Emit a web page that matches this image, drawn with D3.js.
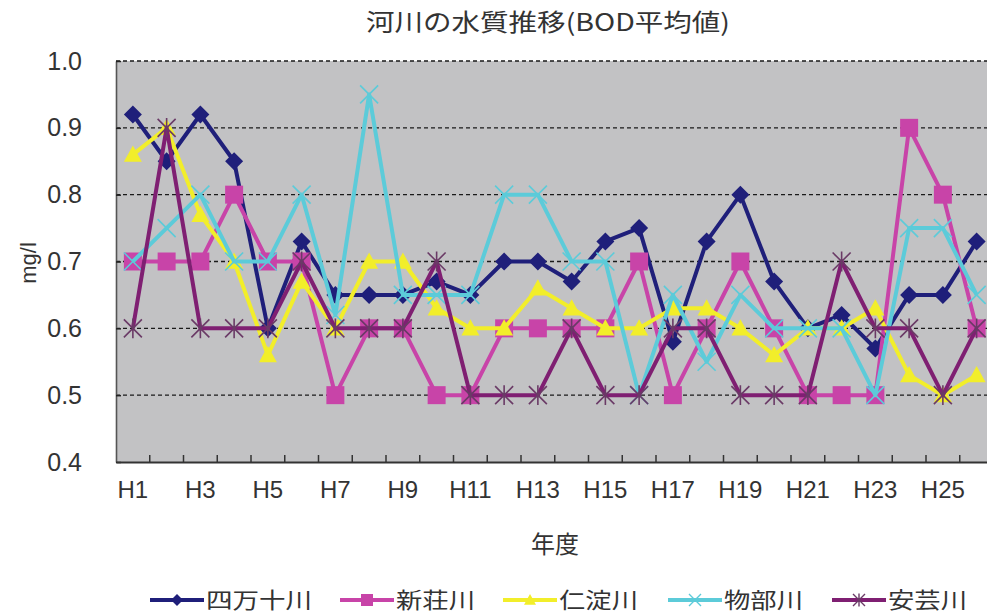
<!DOCTYPE html>
<html>
<head>
<meta charset="utf-8">
<script src="https://cdn.jsdelivr.net/npm/d3@7/dist/d3.min.js"></script>
<style>
  body { margin: 0; background: #fff; }
  svg { display: block; }
  text { fill: #333; }
</style>
</head>
<body>
<div id="chart"></div>
<script>
// categories (fiscal years)
const years = ['H1','H2','H3','H4','H5','H6','H7','H8','H9','H10','H11','H12','H13',
               'H14','H15','H16','H17','H18','H19','H20','H21','H22','H23','H24','H25','H26'];

// BOD averages per river (mg/l)
const shimanto = [0.92,0.85,0.92,0.85,0.60,0.73,0.65,0.65,0.65,0.67,0.65,0.70,0.70,
                  0.67,0.73,0.75,0.58,0.73,0.80,0.67,0.60,0.62,0.57,0.65,0.65,0.73];
const shinjo   = [0.70,0.70,0.70,0.80,0.70,0.70,0.50,0.60,0.60,0.50,0.50,0.60,0.60,
                  0.60,0.60,0.70,0.50,0.60,0.70,0.60,0.50,0.50,0.50,0.90,0.80,0.60];
const niyodo   = [0.86,0.90,0.77,0.70,0.56,0.67,0.60,0.70,0.70,0.63,0.60,0.60,0.66,
                  0.63,0.60,0.60,0.63,0.63,0.60,0.56,0.60,0.60,0.63,0.53,0.50,0.53];
const monobe   = [0.70,0.75,0.80,0.70,0.70,0.80,0.62,0.95,0.65,0.65,0.65,0.80,0.80,
                  0.70,0.70,0.50,0.65,0.55,0.65,0.60,0.60,0.60,0.50,0.75,0.75,0.65];
const aki      = [0.60,0.90,0.60,0.60,0.60,0.70,0.60,0.60,0.60,0.70,0.50,0.50,0.50,
                  0.60,0.50,0.50,0.60,0.60,0.50,0.50,0.50,0.70,0.60,0.60,0.50,0.60];

const seriesNames = ['四万十川','新荘川','仁淀川','物部川','安芸川'];
const yTicks = [0.4,0.5,0.6,0.7,0.8,0.9,1.0];

const series = [
  { name: seriesNames[0], values: shimanto, color: '#1f1f7a', shape: 'diamond' },
  { name: seriesNames[1], values: shinjo,   color: '#c844a8', shape: 'square' },
  { name: seriesNames[2], values: niyodo,   color: '#f2ee2a', shape: 'triangle' },
  { name: seriesNames[3], values: monobe,   color: '#5ccbd9', shape: 'cross' },
  { name: seriesNames[4], values: aki,      color: '#7f1f72', shape: 'star' }
];

const W = 987, H = 616;
const m = { left: 116, top: 61, bottom: 462 };
const step = 33.75;

const svg = d3.select('#chart').append('svg')
    .attr('width', W).attr('height', H);

const x = d3.scaleBand()
    .domain(years)
    .range([m.left, m.left + step * years.length])
    .padding(0);

const y = d3.scaleLinear()
    .domain([0.4, 1.0])
    .range([m.bottom, m.top]);

const cx = d => x(d) + x.bandwidth() / 2;

// plot background
svg.append('rect')
    .attr('x', m.left).attr('y', m.top)
    .attr('width', x.range()[1] - m.left)
    .attr('height', m.bottom - m.top)
    .attr('fill', '#c2c2c4');

// dashed gridlines
svg.append('g')
  .selectAll('line')
  .data(yTicks.filter(t => t > 0.4))
  .join('line')
    .attr('x1', m.left).attr('x2', x.range()[1])
    .attr('y1', d => y(d)).attr('y2', d => y(d))
    .attr('stroke', '#1a1a1a')
    .attr('stroke-width', 1.4)
    .attr('stroke-dasharray', '4,3');

// y axis
const yAxis = d3.axisLeft(y)
    .tickValues(yTicks)
    .tickFormat(d3.format('.1f'))
    .tickSizeInner(-5)
    .tickSizeOuter(0)
    .tickPadding(34);
const gy = svg.append('g')
    .attr('transform', `translate(${m.left},0)`)
    .call(yAxis);
gy.select('.domain').attr('stroke', '#555').attr('stroke-width', 1.6);
gy.selectAll('.tick line').attr('stroke', '#222').attr('stroke-width', 1.5);
gy.selectAll('.tick text')
    .attr('font-family', '"Liberation Sans", Arial, sans-serif')
    .attr('font-size', 25)
    .attr('fill', '#333');

// x axis: labels on odd years only
const xAxis = d3.axisBottom(x)
    .tickValues(years.filter((d, i) => i % 2 === 0))
    .tickSize(0)
    .tickPadding(19);
const gx = svg.append('g')
    .attr('transform', `translate(0,${m.bottom})`)
    .call(xAxis);
gx.select('.domain').attr('stroke', '#333').attr('stroke-width', 2);
gx.selectAll('.tick text')
    .attr('font-family', '"Liberation Sans", Arial, sans-serif')
    .attr('font-size', 24)
    .attr('fill', '#333');

// category boundary ticks pointing into the plot
svg.append('g')
  .selectAll('line')
  .data(years.slice(1))
  .join('line')
    .attr('x1', d => x(d)).attr('x2', d => x(d))
    .attr('y1', m.bottom).attr('y2', m.bottom - 7)
    .attr('stroke', '#333')
    .attr('stroke-width', 1.5);

// marker shapes
function markerPath(shape, s) {
  switch (shape) {
    case 'diamond':  return `M0,${-s}L${s},0L0,${s}L${-s},0Z`;
    case 'square':   return `M${-s},${-s}H${s}V${s}H${-s}Z`;
    case 'triangle': return `M0,${-s}L${s},${s * 0.8}L${-s},${s * 0.8}Z`;
    case 'cross':    return `M${-s},${-s}L${s},${s}M${s},${-s}L${-s},${s}`;
    case 'star':     return `M${-s},${-s}L${s},${s}M${s},${-s}L${-s},${s}M0,${-s * 1.1}L0,${s * 1.1}`;
  }
}
const stroked = shape => shape === 'cross' || shape === 'star';

const line = d3.line()
    .x((d, i) => cx(years[i]))
    .y(d => y(d));

series.forEach(s => {
  const g = svg.append('g');
  g.append('path')
      .datum(s.values)
      .attr('d', line)
      .attr('fill', 'none')
      .attr('stroke', s.color)
      .attr('stroke-width', 4)
      .attr('stroke-linejoin', 'round');
  g.selectAll('path.mk')
    .data(s.values)
    .join('path')
      .attr('class', 'mk')
      .attr('transform', (d, i) => `translate(${cx(years[i])},${y(d)})`)
      .attr('d', markerPath(s.shape, 9))
      .attr('fill', stroked(s.shape) ? 'none' : s.color)
      .attr('stroke', s.shape === 'star' ? '#6a3a66' : s.color)
      .attr('stroke-width', stroked(s.shape) ? 1.6 : 0);
});

// title
svg.append('text')
    .attr('x', 548).attr('y', 31)
    .attr('text-anchor', 'middle')
    .attr('font-family', '"Noto Sans CJK JP", sans-serif')
    .attr('font-size', 24)
    .attr('textLength', 364)
    .attr('lengthAdjust', 'spacingAndGlyphs')
    .text('河川の水質推移(BOD平均値)');

// axis titles
svg.append('text')
    .attr('transform', 'translate(36,263) rotate(-90)')
    .attr('text-anchor', 'middle')
    .attr('font-family', '"Liberation Sans", Arial, sans-serif')
    .attr('font-size', 22)
    .text('mg/l');

svg.append('text')
    .attr('x', 555).attr('y', 553)
    .attr('text-anchor', 'middle')
    .attr('font-family', '"Noto Sans CJK JP", sans-serif')
    .attr('font-size', 24)
    .text('年度');

// legend
const legendX = [150, 340, 503, 668, 832];
const lg = svg.append('g');
series.forEach((s, i) => {
  const g = lg.append('g').attr('transform', `translate(${legendX[i]},600)`);
  g.append('line')
      .attr('x1', 0).attr('x2', 54)
      .attr('stroke', s.color).attr('stroke-width', 4);
  g.append('path')
      .attr('transform', 'translate(27,0)')
      .attr('d', markerPath(s.shape, 6))
      .attr('fill', stroked(s.shape) ? 'none' : s.color)
      .attr('stroke', s.shape === 'star' ? '#6a3a66' : s.color)
      .attr('stroke-width', stroked(s.shape) ? 1.4 : 0);
  g.append('text')
      .attr('x', 56).attr('y', 8)
      .attr('font-family', '"Noto Sans CJK JP", sans-serif')
      .attr('font-size', 22)
      .attr('textLength', s.name.length === 4 ? 106 : 79)
      .attr('lengthAdjust', 'spacingAndGlyphs')
      .text(s.name);
});
</script>
</body>
</html>
